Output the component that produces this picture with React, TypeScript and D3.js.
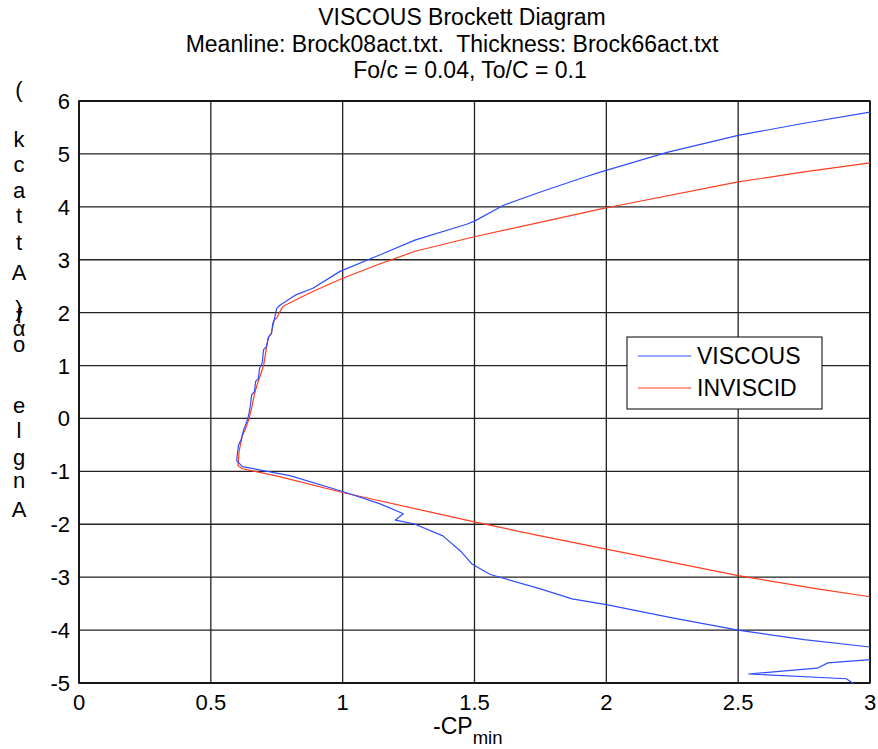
import React from "react";
import * as d3 from "d3";

// viscous curve (top right -> knee -> lower right)
const viscousX = [3.0, 2.75, 2.5, 2.23, 1.98, 1.91, 1.75, 1.61, 1.5, 1.47, 1.274, 1.14, 0.99, 0.887, 0.82, 0.762, 0.75,
  0.74, 0.735, 0.73, 0.72, 0.71, 0.70, 0.695, 0.685, 0.68, 0.67, 0.665, 0.655, 0.65, 0.645, 0.64, 0.63, 0.625, 0.615, 0.605, 0.6, 0.598,
  0.62, 0.8, 1.0, 1.14, 1.23, 1.2, 1.27, 1.38, 1.45, 1.49, 1.56, 1.75, 1.87, 2.0, 2.25, 2.5, 2.75, 3.0];
const viscousY = [5.79, 5.58, 5.35, 5.03, 4.66, 4.55, 4.28, 4.03, 3.73, 3.67, 3.37, 3.09, 2.78, 2.46, 2.33, 2.14, 2.08,
  1.85, 1.8, 1.6, 1.55, 1.35, 1.3, 1.05, 0.95, 0.75, 0.7, 0.5, 0.45, 0.25, 0.1, 0.0, -0.15, -0.2, -0.4, -0.5, -0.7, -0.8,
  -0.91, -1.08, -1.38, -1.61, -1.8, -1.92, -1.99, -2.22, -2.52, -2.75, -2.95, -3.22, -3.41, -3.52, -3.77, -4.0, -4.18, -4.32];
// small extra viscous piece in the lower right corner
const viscousTailX = [3.0, 2.84, 2.8, 2.54, 2.91, 2.94];
const viscousTailY = [-4.56, -4.62, -4.72, -4.83, -4.92, -5.02];

const inviscidX = [3.0, 2.75, 2.5, 2.05, 1.98, 1.495, 1.275, 1.14, 1.0, 0.887, 0.85, 0.774, 0.762,
  0.75, 0.74, 0.73, 0.717, 0.71, 0.70, 0.69, 0.675, 0.665, 0.655, 0.645, 0.635, 0.62, 0.612, 0.607, 0.603,
  0.62, 0.76, 1.0, 1.495, 1.75, 2.0, 2.5, 2.8, 3.0];
const inviscidY = [4.83, 4.66, 4.47, 4.03, 3.96, 3.43, 3.16, 2.92, 2.65, 2.4, 2.31, 2.12, 2.02,
  1.9, 1.86, 1.62, 1.52, 1.3, 1.0, 0.85, 0.63, 0.45, 0.2, 0.0, -0.15, -0.32, -0.5, -0.63, -0.89,
  -0.95, -1.1, -1.4, -1.95, -2.22, -2.47, -2.97, -3.22, -3.37];

const xTicks = [0, 0.5, 1, 1.5, 2, 2.5, 3];
const xTickLabels = ["0", "0.5", "1", "1.5", "2", "2.5", "3"];
const yTicks = [6, 5, 4, 3, 2, 1, 0, -1, -2, -3, -4, -5];

const titleLines = [
  "VISCOUS Brockett Diagram",
  "Meanline: Brock08act.txt.  Thickness: Brock66act.txt",
  "Fo/c = 0.04, To/C = 0.1",
];
// the y label came out as a stack of single characters
const yLabelChars = ["(", "k", "c", "a", "t", "t", "A", ")", "f", "\u03b1", "o", "e", "l", "g", "n", "A"];
const yLabelBase = [97, 147, 172, 198, 223, 250, 280, 316, 323, 336, 352, 413, 438, 465, 488, 517];

const legendNames = ["VISCOUS", "INVISCID"];
const colors = ["#2f4cff", "#ff3c1e"];

const font = "'Liberation Sans', Arial, Helvetica, sans-serif";

export default function App() {
  const W = 878, H = 749;
  const left = 79, right = 870, top = 101, bottom = 683;

  const x = d3.scaleLinear().domain([0, 3]).range([left, right]);
  const y = d3.scaleLinear().domain([-5, 6]).range([bottom, top]);

  const line = d3.line<[number, number]>().x(d => x(d[0])).y(d => y(d[1]));
  const viscous = line(viscousX.map((v, i) => [v, viscousY[i]] as [number, number]));
  const tail = line(viscousTailX.map((v, i) => [v, viscousTailY[i]] as [number, number]));
  const inviscid = line(inviscidX.map((v, i) => [v, inviscidY[i]] as [number, number]));

  const titleBase = [25, 52, 78];
  const titleCx = [462, 452, 470];

  return (
    <svg width={W} height={H} style={{ position: "absolute", left: 0, top: 0, background: "#fff" }}
      fontFamily={font}>
      <rect x={0} y={0} width={W} height={H} fill="#fff" />

      {titleLines.map((t, i) => (
        <text key={t} x={titleCx[i]} y={titleBase[i]} fontSize={23} textAnchor="middle"
          style={{ whiteSpace: "pre" }} fill="#000">{t}</text>
      ))}

      {/* grid */}
      {xTicks.map(t => (
        <line key={"gx" + t} x1={x(t)} x2={x(t)} y1={top} y2={bottom} stroke="#222" strokeWidth={1.3} />
      ))}
      {yTicks.map(t => (
        <line key={"gy" + t} x1={left} x2={right} y1={y(t)} y2={y(t)} stroke="#222" strokeWidth={1.3} />
      ))}
      <rect x={left} y={top} width={right - left} height={bottom - top} fill="none" stroke="#000" strokeWidth={1.5} />

      {/* tick labels */}
      {xTicks.map((t, i) => (
        <text key={"xl" + t} x={x(t)} y={710} fontSize={22} textAnchor="middle">{xTickLabels[i]}</text>
      ))}
      {yTicks.map(t => (
        <text key={"yl" + t} x={70} y={y(t) + 8} fontSize={22} textAnchor="end">{t}</text>
      ))}

      {/* curves */}
      <path d={inviscid ?? ""} fill="none" stroke={colors[1]} strokeWidth={1.2} strokeLinejoin="round" />
      <path d={viscous ?? ""} fill="none" stroke={colors[0]} strokeWidth={1.2} strokeLinejoin="round" />
      <path d={tail ?? ""} fill="none" stroke={colors[0]} strokeWidth={1.2} strokeLinejoin="round" />

      {/* legend */}
      <rect x={627} y={337} width={195} height={72} fill="#fff" stroke="#000" strokeWidth={1} />
      {legendNames.map((n, i) => (
        <g key={n}>
          <line x1={638} x2={691} y1={356 + i * 32} y2={356 + i * 32} stroke={colors[i]} strokeWidth={1.2} />
          <text x={697} y={364 + i * 32} fontSize={23}>{n}</text>
        </g>
      ))}

      {/* axis labels */}
      <text x={433} y={734} fontSize={23}>-CP<tspan fontSize={18.5} dy={10}>min</tspan></text>
      {yLabelChars.map((c, i) => (
        <text key={"c" + i} x={19} y={yLabelBase[i]} fontSize={22} textAnchor="middle">{c}</text>
      ))}
    </svg>
  );
}
